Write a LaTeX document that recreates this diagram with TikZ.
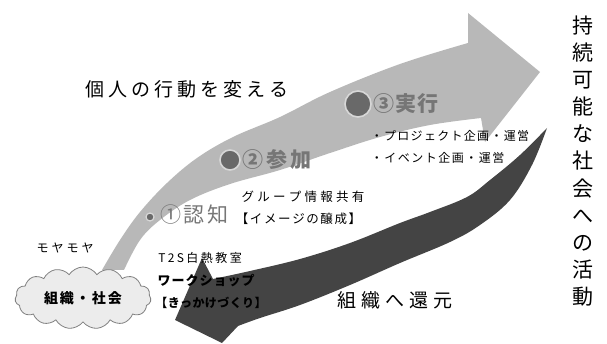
\documentclass[tikz,border=0pt]{standalone}
\usepackage{fontspec}
\setmainfont{Noto Sans CJK JP}
\usetikzlibrary{shapes.symbols}
\newlength\chp
\def\spc#1{\ifx#1\relax\else\makebox[\chp]{#1}\expandafter\spc\fi}
\newcommand\sptext[2]{{\setlength\chp{#1}\spc#2\relax}}
\definecolor{lightarr}{RGB}{184,184,184}
\definecolor{darkarr}{RGB}{68,68,68}
\definecolor{steptext}{RGB}{118,118,118}
\definecolor{cloudfill}{RGB}{236,236,236}
\definecolor{ringcol}{RGB}{215,215,215}
\definecolor{dotcol}{RGB}{105,105,105}
\tikzset{
  lbl/.style={inner sep=0pt, text=black},
  steplbl/.style={inner sep=0pt, text=steptext, anchor=west},
  stepdot/.style={circle, inner sep=0pt, fill=dotcol, draw=ringcol, line width=1.6pt},
}
\begin{document}
\begin{tikzpicture}[x=1pt,y=-1pt]
\useasboundingbox (0,0) rectangle (607,344);
% light arrow
\fill[lightarr] plot[smooth, tension=0.6] coordinates {(124,270) (140,240) (160,220) (190,200) (230,184) (280,170) (330,153) (380,137) (430,125) (481,118)}
  -- (485,142) -- (540,72) -- (468,13) -- (468,43)
  -- plot[smooth, tension=0.6] coordinates {(468,43) (400,64) (330,92) (280,117) (233,137) (197,158) (167,183) (140,212) (120,240) (102,270)} -- cycle;
% dark arrow
\fill[darkarr] plot[smooth, tension=0.6] coordinates {(547,128) (520,155) (490,180) (467,197) (430,212) (400,223) (350,243) (300,259) (250,271) (213,279)}
  -- (202,258) -- (175,320) -- (222,343)
  -- plot[smooth, tension=0.6] coordinates {(238,326) (260,318) (300,305) (350,285) (400,263) (450,242) (480,225) (510,200) (532,165) (547,128)} -- cycle;
% cloud
\node[cloud, cloud puffs=15, cloud puff arc=115, aspect=2.2, draw=gray, line width=0.8pt, fill=cloudfill, minimum width=136pt, minimum height=62pt, inner sep=0pt] (cloud) at (83,298) {};
\node[lbl, font=\fontsize{14}{14}\selectfont\bfseries] (cloudtxt) at (cloud.center) {\sptext{16pt}{組織・社会}};
% title texts
\node[lbl, font=\fontsize{19}{19}\selectfont] (change) at (187,89) {\sptext{23pt}{個人の行動を変える}};
\node[lbl, font=\fontsize{19}{19}\selectfont] (kangen) at (395,300) {\sptext{24pt}{組織へ還元}};
\node[lbl, font=\fontsize{21}{27.1}\selectfont, align=center] (vert) at (583,161) {持\\続\\可\\能\\な\\社\\会\\へ\\の\\活\\動};
% steps
\node[stepdot, minimum size=26pt] (dot3) at (358,104) {};
\node[steplbl, font=\fontsize{21}{21}\selectfont\bfseries] (step3) at (373,104) {\sptext{22pt}{③実行}};
\node[stepdot, minimum size=20pt] (dot2) at (230,160) {};
\node[steplbl, font=\fontsize{21}{21}\selectfont\bfseries] (step2) at (241,160) {\sptext{24pt}{②参加}};
\node[stepdot, minimum size=8pt, line width=1.2pt] (dot1) at (150,217) {};
\node[steplbl, font=\fontsize{21}{21}\selectfont] (step1) at (159,215) {\sptext{23.5pt}{①認知}};
% small texts
\node[lbl, font=\fontsize{12}{12}\selectfont] (proj) at (450,136) {\sptext{13.3pt}{・プロジェクト企画・運営}};
\node[lbl, font=\fontsize{12}{12}\selectfont] (event) at (437.5,158) {\sptext{13.5pt}{・イベント企画・運営}};
\node[lbl, font=\fontsize{12.5}{12.5}\selectfont] (grp) at (303,197) {\sptext{15.75pt}{グループ情報共有}};
\node[lbl, font=\fontsize{12.5}{12.5}\selectfont] (image) at (298.5,219) {\sptext{14.1pt}{【イメージの醸成】}};
\node[lbl, font=\fontsize{12}{12}\selectfont] (moya) at (65,248) {\sptext{15pt}{モヤモヤ}};
\node[lbl, anchor=west, font=\fontsize{12}{12}\selectfont] (t2s) at (157,258) {\sptext{9.3pt}{T2S}\sptext{14.5pt}{白熱教室}};
\node[lbl, anchor=west, font=\fontsize{13}{13}\selectfont\bfseries] (ws) at (157,281) {\sptext{14pt}{ワークショップ}};
\node[lbl, anchor=west, font=\fontsize{12}{12}\selectfont\bfseries] (kk) at (155,303) {\sptext{12.4pt}{【きっかけづくり】}};
\end{tikzpicture}
\end{document}
